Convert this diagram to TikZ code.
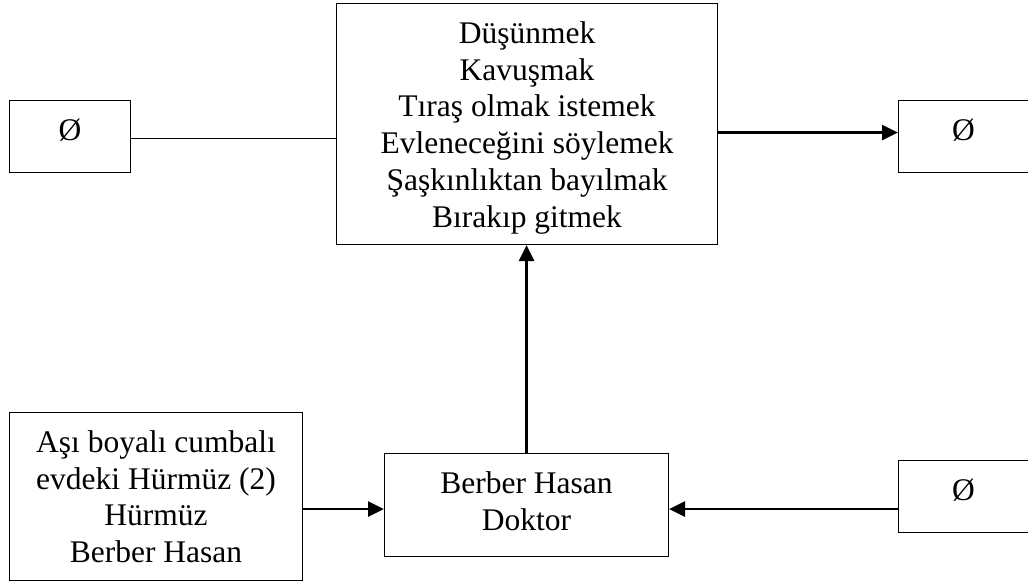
\documentclass[tikz,border=0pt]{standalone}
\usepackage{fontspec}
\setmainfont{Liberation Serif}
\usetikzlibrary{arrows.meta}
% invisible strut that fixes the height of a box's first text line
\newcommand{\headstrut}{\rule{0pt}{30pt}}
\begin{document}
\begin{tikzpicture}[x=1pt,y=-1pt,
  box/.style={draw, line width=1.1pt, rectangle, inner sep=0pt, anchor=north west},
  boxtext/.style={anchor=north, inner sep=0pt, align=center,
    font=\fontsize{31.5}{36.8}\selectfont},
  link/.style={line width=1.1pt},
  flow/.style={line width=2.6pt, -{Triangle[length=16pt,width=15pt]}}]
\useasboundingbox (0,0) rectangle (1028,584);
\clip (0,0) rectangle (1028,584);

% boxes
\node[box, minimum width=121pt, minimum height=72pt]  (tl) at (9,100) {};
\node[box, minimum width=381pt, minimum height=241pt] (c)  at (336,3) {};
\node[box, minimum width=134pt, minimum height=72pt]  (tr) at (898,100) {};
\node[box, minimum width=293pt, minimum height=168pt] (bl) at (9,412) {};
\node[box, minimum width=284pt, minimum height=103pt] (bc) at (384,453) {};
\node[box, minimum width=134pt, minimum height=72pt]  (br) at (898,460) {};

% box texts
\node[boxtext] (tlt) at ([yshift=-10pt]tl.north) {\headstrut Ø};
\node[boxtext] (ct)  at ([yshift=-10pt]c.north)
  {\headstrut Düşünmek\\ Kavuşmak\\ Tıraş olmak istemek\\ Evleneceğini söylemek\\ Şaşkınlıktan bayılmak\\ Bırakıp gitmek};
\node[boxtext] (trt) at ([xshift=-2pt,yshift=-10pt]tr.north) {\headstrut Ø};
\node[boxtext] (blt) at ([yshift=-10pt]bl.north)
  {\headstrut Aşı boyalı cumbalı\\ evdeki Hürmüz (2)\\ Hürmüz\\ Berber Hasan};
\node[boxtext] (bct) at ([yshift=-10pt]bc.north) {\headstrut Berber Hasan\\ Doktor};
\node[boxtext] (brt) at ([xshift=-2pt,yshift=-10pt]br.north) {\headstrut Ø};

% connectors
\coordinate (tlo) at ([yshift=-2pt]tl.east);
\draw[link] (tlo) -- (tlo -| c.west);
\coordinate (tri) at ([yshift=4pt]tr.west);
\draw[flow] (tri -| c.east) -- (tri);
\draw[flow] (bc.north) -- (bc.north |- c.south);
\coordinate (bcw) at ([yshift=-4pt]bc.west);
\draw[flow] (bcw -| bl.east) -- (bcw);
\coordinate (bce) at ([yshift=-4pt]bc.east);
\draw[flow] (bce -| br.west) -- (bce);
\end{tikzpicture}
\end{document}
